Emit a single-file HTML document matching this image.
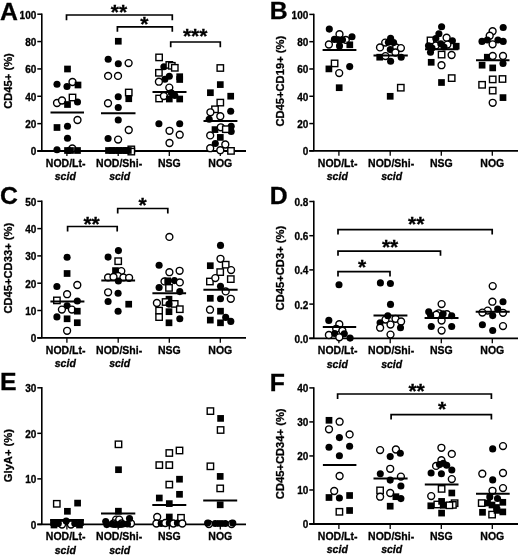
<!DOCTYPE html>
<html><head><meta charset="utf-8"><style>html,body{margin:0;padding:0;background:#fff;width:520px;height:555px;overflow:hidden}svg{display:block;will-change:transform}text{stroke:#000;stroke-width:0.3px}</style></head>
<body><svg width="520" height="555" viewBox="0 0 520 555" font-family='"Liberation Sans", sans-serif'><text x="0" y="20" font-size="24.8" font-weight="bold">A</text><text transform="translate(11.8,81) rotate(-90)" text-anchor="middle" font-size="11.2" font-weight="bold">CD45+ (%)</text><path d="M41.8 13.45V151" stroke="#000" stroke-width="1.6" fill="none"/><path d="M37.3 151H246" stroke="#000" stroke-width="1.8" fill="none"/><path d="M37.3 14.2H41.8" stroke="#000" stroke-width="1.5"/><text x="36.3" y="18.6" text-anchor="end" font-size="10" font-weight="bold">100</text><path d="M37.3 41.56H41.8" stroke="#000" stroke-width="1.5"/><text x="36.3" y="45.96" text-anchor="end" font-size="10" font-weight="bold">80</text><path d="M37.3 68.92H41.8" stroke="#000" stroke-width="1.5"/><text x="36.3" y="73.32000000000001" text-anchor="end" font-size="10" font-weight="bold">60</text><path d="M37.3 96.28H41.8" stroke="#000" stroke-width="1.5"/><text x="36.3" y="100.68" text-anchor="end" font-size="10" font-weight="bold">40</text><path d="M37.3 123.64H41.8" stroke="#000" stroke-width="1.5"/><text x="36.3" y="128.04" text-anchor="end" font-size="10" font-weight="bold">20</text><path d="M37.3 151.0H41.8" stroke="#000" stroke-width="1.5"/><text x="36.3" y="155.4" text-anchor="end" font-size="10" font-weight="bold">0</text><path d="M66.9 151V156" stroke="#000" stroke-width="1.3"/><text x="65.70" y="167" text-anchor="middle" font-size="10.5" font-weight="bold">NOD/Lt-</text><text x="65.30" y="180.3" text-anchor="middle" font-size="10.5" font-weight="bold" font-style="italic">scid</text><path d="M118.2 151V156" stroke="#000" stroke-width="1.3"/><text x="119.10" y="167" text-anchor="middle" font-size="10.5" font-weight="bold">NOD/Shi-</text><text x="119.70" y="180.3" text-anchor="middle" font-size="10.5" font-weight="bold" font-style="italic">scid</text><path d="M169.3 151V156" stroke="#000" stroke-width="1.3"/><text x="169.30" y="167" text-anchor="middle" font-size="10.5" font-weight="bold">NSG</text><path d="M220.3 151V156" stroke="#000" stroke-width="1.3"/><text x="220.30" y="167" text-anchor="middle" font-size="10.5" font-weight="bold">NOG</text><rect x="64.15" y="65.65" width="6.7" height="6.7"/><circle cx="57" cy="84.2" r="3.55"/><circle cx="67" cy="86.5" r="3.55"/><circle cx="72.5" cy="82" r="3.45" fill="#fff" stroke="#000" stroke-width="1.4"/><rect x="74.65" y="81.65" width="6.7" height="6.7"/><circle cx="57" cy="103" r="3.45" fill="#fff" stroke="#000" stroke-width="1.4"/><circle cx="62" cy="100.5" r="3.45" fill="#fff" stroke="#000" stroke-width="1.4"/><rect x="64.15" y="101.15" width="6.7" height="6.7"/><rect x="69.30" y="94.30" width="6.4" height="6.4" fill="#fff" stroke="#000" stroke-width="1.4"/><circle cx="77.5" cy="102" r="3.55"/><circle cx="77.5" cy="120" r="3.45" fill="#fff" stroke="#000" stroke-width="1.4"/><rect x="53.65" y="124.15" width="6.7" height="6.7"/><circle cx="67.5" cy="126.3" r="3.55"/><circle cx="67.5" cy="138.3" r="3.55"/><circle cx="57" cy="149.8" r="3.55"/><circle cx="72.3" cy="148.5" r="3.45" fill="#fff" stroke="#000" stroke-width="1.4"/><rect x="64.15" y="147.15" width="6.7" height="6.7"/><rect x="67.15" y="147.15" width="6.7" height="6.7"/><rect x="74.15" y="147.15" width="6.7" height="6.7"/><rect x="114.95" y="37.90" width="6.7" height="6.7"/><circle cx="108.2" cy="59.25" r="3.55"/><circle cx="118.3" cy="63.8" r="3.55"/><circle cx="128.6" cy="63.1" r="3.45" fill="#fff" stroke="#000" stroke-width="1.4"/><circle cx="108.1" cy="75.9" r="3.45" fill="#fff" stroke="#000" stroke-width="1.4"/><circle cx="118" cy="75.9" r="3.45" fill="#fff" stroke="#000" stroke-width="1.4"/><rect x="125.55" y="89.30" width="6.4" height="6.4" fill="#fff" stroke="#000" stroke-width="1.4"/><rect x="125.40" y="95.40" width="6.7" height="6.7"/><circle cx="118.25" cy="96.75" r="3.55"/><circle cx="108" cy="103.25" r="3.45" fill="#fff" stroke="#000" stroke-width="1.4"/><circle cx="118.25" cy="107.5" r="3.55"/><circle cx="118.25" cy="120" r="3.55"/><circle cx="128.75" cy="130" r="3.45" fill="#fff" stroke="#000" stroke-width="1.4"/><circle cx="108.1" cy="138.5" r="3.55"/><circle cx="118.1" cy="139.6" r="3.45" fill="#fff" stroke="#000" stroke-width="1.4"/><rect x="128.10" y="146.20" width="6.4" height="6.4" fill="#fff" stroke="#000" stroke-width="1.4"/><rect x="128.10" y="148.40" width="6.4" height="6.4" fill="#fff" stroke="#000" stroke-width="1.4"/><rect x="105.15" y="147.15" width="6.7" height="6.7"/><rect x="108.65" y="147.15" width="6.7" height="6.7"/><rect x="112.15" y="147.15" width="6.7" height="6.7"/><rect x="115.65" y="147.15" width="6.7" height="6.7"/><rect x="119.15" y="147.15" width="6.7" height="6.7"/><rect x="122.65" y="147.15" width="6.7" height="6.7"/><rect x="124.95" y="147.15" width="6.7" height="6.7"/><rect x="155.90" y="54.20" width="6.4" height="6.4" fill="#fff" stroke="#000" stroke-width="1.4"/><circle cx="163.9" cy="66.8" r="3.55"/><rect x="166.10" y="61.70" width="6.4" height="6.4" fill="#fff" stroke="#000" stroke-width="1.4"/><rect x="168.60" y="62.60" width="6.4" height="6.4" fill="#fff" stroke="#000" stroke-width="1.4"/><rect x="171.60" y="64.60" width="6.4" height="6.4" fill="#fff" stroke="#000" stroke-width="1.4"/><rect x="155.70" y="69.60" width="6.4" height="6.4" fill="#fff" stroke="#000" stroke-width="1.4"/><circle cx="169.3" cy="76.2" r="3.55"/><circle cx="164.9" cy="79.2" r="3.55"/><rect x="176.35" y="73.35" width="6.7" height="6.7"/><rect x="176.35" y="76.15" width="6.7" height="6.7"/><circle cx="158.9" cy="81.7" r="3.45" fill="#fff" stroke="#000" stroke-width="1.4"/><circle cx="169.3" cy="87.6" r="3.45" fill="#fff" stroke="#000" stroke-width="1.4"/><circle cx="171.3" cy="92.8" r="3.55"/><circle cx="174.8" cy="95.5" r="3.55"/><rect x="155.90" y="95.30" width="6.4" height="6.4" fill="#fff" stroke="#000" stroke-width="1.4"/><circle cx="163.9" cy="96" r="3.45" fill="#fff" stroke="#000" stroke-width="1.4"/><rect x="165.95" y="95.65" width="6.7" height="6.7"/><rect x="176.35" y="95.65" width="6.7" height="6.7"/><circle cx="158.9" cy="123.8" r="3.55"/><circle cx="179.7" cy="123.8" r="3.55"/><circle cx="169.5" cy="130.8" r="3.45" fill="#fff" stroke="#000" stroke-width="1.4"/><circle cx="179.7" cy="134.7" r="3.45" fill="#fff" stroke="#000" stroke-width="1.4"/><circle cx="169.5" cy="143" r="3.45" fill="#fff" stroke="#000" stroke-width="1.4"/><rect x="217.10" y="64.80" width="6.4" height="6.4" fill="#fff" stroke="#000" stroke-width="1.4"/><rect x="216.95" y="81.25" width="6.7" height="6.7"/><rect x="207.05" y="89.35" width="6.7" height="6.7"/><rect x="227.35" y="92.85" width="6.7" height="6.7"/><rect x="217.10" y="99.40" width="6.4" height="6.4" fill="#fff" stroke="#000" stroke-width="1.4"/><rect x="211.80" y="106.10" width="6.4" height="6.4" fill="#fff" stroke="#000" stroke-width="1.4"/><circle cx="230.7" cy="111.2" r="3.55"/><circle cx="210.4" cy="112.3" r="3.45" fill="#fff" stroke="#000" stroke-width="1.4"/><circle cx="220.3" cy="116.2" r="3.45" fill="#fff" stroke="#000" stroke-width="1.4"/><circle cx="209.2" cy="119.2" r="3.55"/><circle cx="231.2" cy="126.2" r="3.55"/><circle cx="231.2" cy="131.5" r="3.55"/><rect x="211.65" y="126.25" width="6.7" height="6.7"/><circle cx="220.8" cy="127.3" r="3.45" fill="#fff" stroke="#000" stroke-width="1.4"/><rect x="222.60" y="126.00" width="6.4" height="6.4" fill="#fff" stroke="#000" stroke-width="1.4"/><circle cx="210.2" cy="135.4" r="3.45" fill="#fff" stroke="#000" stroke-width="1.4"/><rect x="216.95" y="134.05" width="6.7" height="6.7"/><circle cx="215.3" cy="143.5" r="3.55"/><circle cx="225.3" cy="144.5" r="3.45" fill="#fff" stroke="#000" stroke-width="1.4"/><circle cx="210.2" cy="148.2" r="3.45" fill="#fff" stroke="#000" stroke-width="1.4"/><circle cx="220.3" cy="150.2" r="3.45" fill="#fff" stroke="#000" stroke-width="1.4"/><rect x="227.80" y="147.70" width="6.4" height="6.4" fill="#fff" stroke="#000" stroke-width="1.4"/><path d="M50.5 112.5H84" stroke="#000" stroke-width="2"/><path d="M101 113.25H135.5" stroke="#000" stroke-width="2"/><path d="M152.5 92.1H186.5" stroke="#000" stroke-width="2"/><path d="M203.5 121H237.4" stroke="#000" stroke-width="2"/><path d="M66.5 20.3V15H172.3V20.3" stroke="#000" stroke-width="1.7" fill="none"/><text x="119" y="18.9" text-anchor="middle" font-size="21" font-weight="bold">**</text><path d="M117.4 31.8V26.8H172.3V31.8" stroke="#000" stroke-width="1.7" fill="none"/><text x="144.3" y="30.9" text-anchor="middle" font-size="21" font-weight="bold">*</text><path d="M170.7 47.3V42H220.3V47.3" stroke="#000" stroke-width="1.7" fill="none"/><text x="195.2" y="43.4" text-anchor="middle" font-size="21" font-weight="bold">***</text><text x="269.8" y="18.5" font-size="24.8" font-weight="bold">B</text><text transform="translate(284.3,81.2) rotate(-90)" text-anchor="middle" font-size="11.2" font-weight="bold">CD45+CD19+ (%)</text><path d="M313.8 13.65V150.85" stroke="#000" stroke-width="1.6" fill="none"/><path d="M309.3 150.85H518" stroke="#000" stroke-width="1.8" fill="none"/><path d="M309.3 14.4H313.8" stroke="#000" stroke-width="1.5"/><text x="308.3" y="18.8" text-anchor="end" font-size="10" font-weight="bold">100</text><path d="M309.3 41.69H313.8" stroke="#000" stroke-width="1.5"/><text x="308.3" y="46.089999999999996" text-anchor="end" font-size="10" font-weight="bold">80</text><path d="M309.3 68.98H313.8" stroke="#000" stroke-width="1.5"/><text x="308.3" y="73.38000000000001" text-anchor="end" font-size="10" font-weight="bold">60</text><path d="M309.3 96.27H313.8" stroke="#000" stroke-width="1.5"/><text x="308.3" y="100.67" text-anchor="end" font-size="10" font-weight="bold">40</text><path d="M309.3 123.56H313.8" stroke="#000" stroke-width="1.5"/><text x="308.3" y="127.96000000000001" text-anchor="end" font-size="10" font-weight="bold">20</text><path d="M309.3 150.85H313.8" stroke="#000" stroke-width="1.5"/><text x="308.3" y="155.25" text-anchor="end" font-size="10" font-weight="bold">0</text><path d="M338.9 150.85V155.85" stroke="#000" stroke-width="1.3"/><text x="337.70" y="166.85" text-anchor="middle" font-size="10.5" font-weight="bold">NOD/Lt-</text><text x="337.30" y="180.15" text-anchor="middle" font-size="10.5" font-weight="bold" font-style="italic">scid</text><path d="M390.2 150.85V155.85" stroke="#000" stroke-width="1.3"/><text x="391.10" y="166.85" text-anchor="middle" font-size="10.5" font-weight="bold">NOD/Shi-</text><text x="391.70" y="180.15" text-anchor="middle" font-size="10.5" font-weight="bold" font-style="italic">scid</text><path d="M441.3 150.85V155.85" stroke="#000" stroke-width="1.3"/><text x="441.30" y="166.85" text-anchor="middle" font-size="10.5" font-weight="bold">NSG</text><path d="M492.3 150.85V155.85" stroke="#000" stroke-width="1.3"/><text x="492.30" y="166.85" text-anchor="middle" font-size="10.5" font-weight="bold">NOG</text><circle cx="339.5" cy="34.2" r="3.45" fill="#fff" stroke="#000" stroke-width="1.4"/><circle cx="345.8" cy="39.9" r="3.45" fill="#fff" stroke="#000" stroke-width="1.4"/><circle cx="329.3" cy="29.1" r="3.55"/><circle cx="352" cy="36.8" r="3.55"/><circle cx="334.4" cy="39.4" r="3.55"/><circle cx="338.5" cy="39.8" r="3.55"/><circle cx="342.5" cy="39.7" r="3.55"/><circle cx="328.9" cy="44.5" r="3.45" fill="#fff" stroke="#000" stroke-width="1.4"/><circle cx="339.5" cy="45.9" r="3.55"/><rect x="346.45" y="41.45" width="6.7" height="6.7"/><rect x="331.40" y="60.20" width="6.4" height="6.4" fill="#fff" stroke="#000" stroke-width="1.4"/><rect x="325.55" y="65.55" width="6.7" height="6.7"/><circle cx="349.7" cy="66.6" r="3.55"/><circle cx="339.2" cy="73.1" r="3.45" fill="#fff" stroke="#000" stroke-width="1.4"/><rect x="335.85" y="84.35" width="6.7" height="6.7"/><circle cx="385.2" cy="42.6" r="3.45" fill="#fff" stroke="#000" stroke-width="1.4"/><circle cx="396.1" cy="47.4" r="3.45" fill="#fff" stroke="#000" stroke-width="1.4"/><circle cx="400.9" cy="48.1" r="3.45" fill="#fff" stroke="#000" stroke-width="1.4"/><circle cx="380" cy="47.4" r="3.45" fill="#fff" stroke="#000" stroke-width="1.4"/><circle cx="390.6" cy="38.2" r="3.55"/><circle cx="388.4" cy="42.3" r="3.55"/><circle cx="393.6" cy="42.6" r="3.55"/><circle cx="390.3" cy="49.6" r="3.55"/><circle cx="395.4" cy="52.5" r="3.45" fill="#fff" stroke="#000" stroke-width="1.4"/><rect x="376.35" y="53.85" width="6.7" height="6.7"/><circle cx="385.5" cy="56.1" r="3.45" fill="#fff" stroke="#000" stroke-width="1.4"/><circle cx="401.2" cy="57.2" r="3.55"/><circle cx="390.6" cy="61.3" r="3.55"/><rect x="397.60" y="84.50" width="6.4" height="6.4" fill="#fff" stroke="#000" stroke-width="1.4"/><rect x="386.85" y="92.95" width="6.7" height="6.7"/><circle cx="441.6" cy="26.8" r="3.55"/><circle cx="438.9" cy="33.8" r="3.55"/><rect x="427.30" y="37.20" width="6.4" height="6.4" fill="#fff" stroke="#000" stroke-width="1.4"/><circle cx="446.6" cy="37.7" r="3.45" fill="#fff" stroke="#000" stroke-width="1.4"/><circle cx="435.8" cy="38.5" r="3.55"/><circle cx="452.4" cy="40.8" r="3.55"/><circle cx="447.4" cy="44.6" r="3.45" fill="#fff" stroke="#000" stroke-width="1.4"/><circle cx="435.8" cy="45.4" r="3.45" fill="#fff" stroke="#000" stroke-width="1.4"/><circle cx="440.8" cy="43.8" r="3.55"/><circle cx="428.5" cy="45.8" r="3.55"/><rect x="452.85" y="42.85" width="6.7" height="6.7"/><circle cx="444" cy="47" r="3.55"/><circle cx="432" cy="48" r="3.55"/><circle cx="430.5" cy="52.3" r="3.55"/><rect x="438.40" y="51.40" width="6.4" height="6.4" fill="#fff" stroke="#000" stroke-width="1.4"/><circle cx="451.6" cy="55" r="3.45" fill="#fff" stroke="#000" stroke-width="1.4"/><rect x="427.85" y="58.95" width="6.7" height="6.7"/><circle cx="441.5" cy="65.2" r="3.45" fill="#fff" stroke="#000" stroke-width="1.4"/><rect x="438.15" y="79.15" width="6.7" height="6.7"/><rect x="448.50" y="74.90" width="6.4" height="6.4" fill="#fff" stroke="#000" stroke-width="1.4"/><circle cx="503.2" cy="27.5" r="3.55"/><circle cx="492.6" cy="31.2" r="3.45" fill="#fff" stroke="#000" stroke-width="1.4"/><circle cx="489.7" cy="35.7" r="3.45" fill="#fff" stroke="#000" stroke-width="1.4"/><circle cx="482" cy="41.4" r="3.55"/><circle cx="487.3" cy="40" r="3.55"/><circle cx="497.9" cy="40" r="3.55"/><circle cx="503.2" cy="41.4" r="3.55"/><circle cx="492.6" cy="44.3" r="3.45" fill="#fff" stroke="#000" stroke-width="1.4"/><rect x="483.95" y="53.85" width="6.7" height="6.7"/><circle cx="492.7" cy="56" r="3.45" fill="#fff" stroke="#000" stroke-width="1.4"/><circle cx="503" cy="56" r="3.45" fill="#fff" stroke="#000" stroke-width="1.4"/><rect x="478.75" y="61.85" width="6.7" height="6.7"/><circle cx="503" cy="63.5" r="3.55"/><rect x="489.35" y="64.55" width="6.7" height="6.7"/><rect x="489.50" y="76.20" width="6.4" height="6.4" fill="#fff" stroke="#000" stroke-width="1.4"/><rect x="499.30" y="75.80" width="6.4" height="6.4" fill="#fff" stroke="#000" stroke-width="1.4"/><rect x="478.90" y="81.60" width="6.4" height="6.4" fill="#fff" stroke="#000" stroke-width="1.4"/><rect x="489.50" y="87.40" width="6.4" height="6.4" fill="#fff" stroke="#000" stroke-width="1.4"/><rect x="499.65" y="94.25" width="6.7" height="6.7"/><circle cx="492.7" cy="102.8" r="3.45" fill="#fff" stroke="#000" stroke-width="1.4"/><path d="M322.6 50H356.4" stroke="#000" stroke-width="2"/><path d="M373.5 55.4H407.8" stroke="#000" stroke-width="2"/><path d="M425 49.3H458.4" stroke="#000" stroke-width="2"/><path d="M476 60.2H509.5" stroke="#000" stroke-width="2"/><text x="0" y="204" font-size="24.8" font-weight="bold">C</text><text transform="translate(12.0,268.2) rotate(-90)" text-anchor="middle" font-size="11.2" font-weight="bold">CD45+CD33+ (%)</text><path d="M41.8 200.55V337.8" stroke="#000" stroke-width="1.6" fill="none"/><path d="M37.3 337.8H246" stroke="#000" stroke-width="1.8" fill="none"/><path d="M37.3 201.3H41.8" stroke="#000" stroke-width="1.5"/><text x="36.3" y="205.70000000000002" text-anchor="end" font-size="10" font-weight="bold">50</text><path d="M37.3 228.6H41.8" stroke="#000" stroke-width="1.5"/><text x="36.3" y="233.0" text-anchor="end" font-size="10" font-weight="bold">40</text><path d="M37.3 255.9H41.8" stroke="#000" stroke-width="1.5"/><text x="36.3" y="260.3" text-anchor="end" font-size="10" font-weight="bold">30</text><path d="M37.3 283.2H41.8" stroke="#000" stroke-width="1.5"/><text x="36.3" y="287.59999999999997" text-anchor="end" font-size="10" font-weight="bold">20</text><path d="M37.3 310.5H41.8" stroke="#000" stroke-width="1.5"/><text x="36.3" y="314.9" text-anchor="end" font-size="10" font-weight="bold">10</text><path d="M37.3 337.8H41.8" stroke="#000" stroke-width="1.5"/><text x="36.3" y="342.2" text-anchor="end" font-size="10" font-weight="bold">0</text><path d="M66.9 337.8V342.8" stroke="#000" stroke-width="1.3"/><text x="65.70" y="353.8" text-anchor="middle" font-size="10.5" font-weight="bold">NOD/Lt-</text><text x="65.30" y="367.1" text-anchor="middle" font-size="10.5" font-weight="bold" font-style="italic">scid</text><path d="M118.2 337.8V342.8" stroke="#000" stroke-width="1.3"/><text x="119.10" y="353.8" text-anchor="middle" font-size="10.5" font-weight="bold">NOD/Shi-</text><text x="119.70" y="367.1" text-anchor="middle" font-size="10.5" font-weight="bold" font-style="italic">scid</text><path d="M169.3 337.8V342.8" stroke="#000" stroke-width="1.3"/><text x="169.30" y="353.8" text-anchor="middle" font-size="10.5" font-weight="bold">NSG</text><path d="M220.3 337.8V342.8" stroke="#000" stroke-width="1.3"/><text x="220.30" y="353.8" text-anchor="middle" font-size="10.5" font-weight="bold">NOG</text><circle cx="67.1" cy="257.3" r="3.55"/><rect x="63.75" y="270.15" width="6.7" height="6.7"/><circle cx="56.9" cy="286.5" r="3.55"/><circle cx="77.3" cy="285" r="3.45" fill="#fff" stroke="#000" stroke-width="1.4"/><circle cx="67.1" cy="294.2" r="3.45" fill="#fff" stroke="#000" stroke-width="1.4"/><rect x="53.70" y="297.20" width="6.4" height="6.4" fill="#fff" stroke="#000" stroke-width="1.4"/><circle cx="77.3" cy="301" r="3.55"/><circle cx="67.1" cy="305.8" r="3.55"/><circle cx="61.9" cy="309.6" r="3.45" fill="#fff" stroke="#000" stroke-width="1.4"/><circle cx="71.9" cy="309.6" r="3.45" fill="#fff" stroke="#000" stroke-width="1.4"/><rect x="73.95" y="307.85" width="6.7" height="6.7"/><circle cx="56.9" cy="316.9" r="3.55"/><rect x="63.75" y="315.45" width="6.7" height="6.7"/><rect x="73.95" y="319.35" width="6.7" height="6.7"/><circle cx="67.1" cy="330.8" r="3.45" fill="#fff" stroke="#000" stroke-width="1.4"/><circle cx="118.4" cy="250.6" r="3.55"/><circle cx="108.1" cy="257.1" r="3.55"/><rect x="115.00" y="258.00" width="6.4" height="6.4" fill="#fff" stroke="#000" stroke-width="1.4"/><circle cx="121.3" cy="271.1" r="3.45" fill="#fff" stroke="#000" stroke-width="1.4"/><rect x="112.15" y="267.25" width="6.7" height="6.7"/><circle cx="118" cy="276" r="3.45" fill="#fff" stroke="#000" stroke-width="1.4"/><circle cx="108.1" cy="277.4" r="3.45" fill="#fff" stroke="#000" stroke-width="1.4"/><circle cx="113.5" cy="276.9" r="3.45" fill="#fff" stroke="#000" stroke-width="1.4"/><circle cx="123.4" cy="277.4" r="3.45" fill="#fff" stroke="#000" stroke-width="1.4"/><circle cx="129.1" cy="277.8" r="3.45" fill="#fff" stroke="#000" stroke-width="1.4"/><circle cx="118.4" cy="281" r="3.55"/><circle cx="108.1" cy="292.3" r="3.45" fill="#fff" stroke="#000" stroke-width="1.4"/><circle cx="118.1" cy="293.3" r="3.55"/><circle cx="108.1" cy="301.5" r="3.55"/><rect x="125.35" y="300.85" width="6.7" height="6.7"/><circle cx="118.1" cy="311.2" r="3.55"/><circle cx="169.4" cy="236.9" r="3.45" fill="#fff" stroke="#000" stroke-width="1.4"/><circle cx="159.1" cy="265.3" r="3.55"/><circle cx="169.4" cy="272.2" r="3.45" fill="#fff" stroke="#000" stroke-width="1.4"/><circle cx="179.6" cy="270.8" r="3.45" fill="#fff" stroke="#000" stroke-width="1.4"/><circle cx="164.5" cy="281.4" r="3.45" fill="#fff" stroke="#000" stroke-width="1.4"/><rect x="164.35" y="277.45" width="6.7" height="6.7"/><circle cx="174.4" cy="280.6" r="3.55"/><circle cx="179.8" cy="282.4" r="3.45" fill="#fff" stroke="#000" stroke-width="1.4"/><circle cx="159.1" cy="287.5" r="3.55"/><rect x="165.80" y="284.70" width="6.4" height="6.4" fill="#fff" stroke="#000" stroke-width="1.4"/><circle cx="179.8" cy="291.6" r="3.55"/><rect x="165.65" y="295.85" width="6.7" height="6.7"/><circle cx="156.9" cy="303" r="3.45" fill="#fff" stroke="#000" stroke-width="1.4"/><rect x="162.40" y="298.80" width="6.4" height="6.4" fill="#fff" stroke="#000" stroke-width="1.4"/><rect x="171.50" y="300.70" width="6.4" height="6.4" fill="#fff" stroke="#000" stroke-width="1.4"/><circle cx="169" cy="304.1" r="3.55"/><rect x="176.60" y="306.00" width="6.4" height="6.4" fill="#fff" stroke="#000" stroke-width="1.4"/><rect x="155.90" y="307.40" width="6.4" height="6.4" fill="#fff" stroke="#000" stroke-width="1.4"/><rect x="165.65" y="308.35" width="6.7" height="6.7"/><rect x="155.90" y="313.90" width="6.4" height="6.4" fill="#fff" stroke="#000" stroke-width="1.4"/><circle cx="179.8" cy="318.7" r="3.55"/><rect x="165.65" y="319.45" width="6.7" height="6.7"/><circle cx="220.5" cy="245.4" r="3.55"/><circle cx="220.5" cy="258.8" r="3.45" fill="#fff" stroke="#000" stroke-width="1.4"/><rect x="222.50" y="261.50" width="6.4" height="6.4" fill="#fff" stroke="#000" stroke-width="1.4"/><rect x="206.95" y="262.35" width="6.7" height="6.7"/><circle cx="231.1" cy="270.1" r="3.45" fill="#fff" stroke="#000" stroke-width="1.4"/><rect x="217.00" y="268.90" width="6.4" height="6.4" fill="#fff" stroke="#000" stroke-width="1.4"/><rect x="206.70" y="278.30" width="6.4" height="6.4" fill="#fff" stroke="#000" stroke-width="1.4"/><circle cx="215.3" cy="278.1" r="3.45" fill="#fff" stroke="#000" stroke-width="1.4"/><rect x="227.60" y="275.90" width="6.4" height="6.4" fill="#fff" stroke="#000" stroke-width="1.4"/><circle cx="220.5" cy="286.2" r="3.55"/><circle cx="225.7" cy="291.4" r="3.45" fill="#fff" stroke="#000" stroke-width="1.4"/><rect x="206.95" y="294.95" width="6.7" height="6.7"/><circle cx="220.5" cy="298.8" r="3.55"/><circle cx="230.8" cy="298.8" r="3.45" fill="#fff" stroke="#000" stroke-width="1.4"/><circle cx="210" cy="309.7" r="3.45" fill="#fff" stroke="#000" stroke-width="1.4"/><rect x="217.15" y="307.85" width="6.7" height="6.7"/><circle cx="225.7" cy="317.4" r="3.55"/><rect x="206.95" y="316.75" width="6.7" height="6.7"/><rect x="217.15" y="319.45" width="6.7" height="6.7"/><circle cx="230.8" cy="321.4" r="3.55"/><path d="M50.4 301.5H84.4" stroke="#000" stroke-width="2"/><path d="M101.3 280.4H135.1" stroke="#000" stroke-width="2"/><path d="M152.4 293.3H186.1" stroke="#000" stroke-width="2"/><path d="M203.4 289.7H237.6" stroke="#000" stroke-width="2"/><path d="M67.6 231.5V226.5H117.2V231.5" stroke="#000" stroke-width="1.7" fill="none"/><text x="91.6" y="230.9" text-anchor="middle" font-size="21" font-weight="bold">**</text><path d="M117.7 213.5V208.5H167.8V213.5" stroke="#000" stroke-width="1.7" fill="none"/><text x="142.5" y="212.4" text-anchor="middle" font-size="21" font-weight="bold">*</text><text x="269.8" y="204.4" font-size="24.8" font-weight="bold">D</text><text transform="translate(284.4,268.1) rotate(-90)" text-anchor="middle" font-size="11.2" font-weight="bold">CD45+CD3+ (%)</text><path d="M313.8 200.75V338.3" stroke="#000" stroke-width="1.6" fill="none"/><path d="M309.3 338.3H518" stroke="#000" stroke-width="1.8" fill="none"/><path d="M309.3 201.5H313.8" stroke="#000" stroke-width="1.5"/><text x="308.3" y="205.9" text-anchor="end" font-size="10" font-weight="bold">0.8</text><path d="M309.3 235.7H313.8" stroke="#000" stroke-width="1.5"/><text x="308.3" y="240.1" text-anchor="end" font-size="10" font-weight="bold">0.6</text><path d="M309.3 269.9H313.8" stroke="#000" stroke-width="1.5"/><text x="308.3" y="274.29999999999995" text-anchor="end" font-size="10" font-weight="bold">0.4</text><path d="M309.3 304.1H313.8" stroke="#000" stroke-width="1.5"/><text x="308.3" y="308.5" text-anchor="end" font-size="10" font-weight="bold">0.2</text><path d="M309.3 338.3H313.8" stroke="#000" stroke-width="1.5"/><text x="308.3" y="342.7" text-anchor="end" font-size="10" font-weight="bold">0.0</text><path d="M338.9 338.3V343.3" stroke="#000" stroke-width="1.3"/><text x="337.70" y="354.3" text-anchor="middle" font-size="10.5" font-weight="bold">NOD/Lt-</text><text x="337.30" y="367.6" text-anchor="middle" font-size="10.5" font-weight="bold" font-style="italic">scid</text><path d="M390.2 338.3V343.3" stroke="#000" stroke-width="1.3"/><text x="391.10" y="354.3" text-anchor="middle" font-size="10.5" font-weight="bold">NOD/Shi-</text><text x="391.70" y="367.6" text-anchor="middle" font-size="10.5" font-weight="bold" font-style="italic">scid</text><path d="M441.3 338.3V343.3" stroke="#000" stroke-width="1.3"/><text x="441.30" y="354.3" text-anchor="middle" font-size="10.5" font-weight="bold">NSG</text><path d="M492.3 338.3V343.3" stroke="#000" stroke-width="1.3"/><text x="492.30" y="354.3" text-anchor="middle" font-size="10.5" font-weight="bold">NOG</text><circle cx="339" cy="284.8" r="3.55"/><circle cx="328.8" cy="320.4" r="3.55"/><circle cx="339.3" cy="324.2" r="3.45" fill="#fff" stroke="#000" stroke-width="1.4"/><circle cx="336.2" cy="328.8" r="3.45" fill="#fff" stroke="#000" stroke-width="1.4"/><circle cx="342.4" cy="330.8" r="3.45" fill="#fff" stroke="#000" stroke-width="1.4"/><circle cx="328.9" cy="335" r="3.45" fill="#fff" stroke="#000" stroke-width="1.4"/><circle cx="334.7" cy="333.5" r="3.55"/><circle cx="344.3" cy="333.8" r="3.55"/><circle cx="339.3" cy="337.3" r="3.45" fill="#fff" stroke="#000" stroke-width="1.4"/><circle cx="350.1" cy="338.1" r="3.55"/><circle cx="380.4" cy="282.9" r="3.55"/><circle cx="390.4" cy="283.5" r="3.55"/><circle cx="390.5" cy="304.4" r="3.55"/><circle cx="385.5" cy="319.6" r="3.45" fill="#fff" stroke="#000" stroke-width="1.4"/><circle cx="395.5" cy="318.8" r="3.45" fill="#fff" stroke="#000" stroke-width="1.4"/><circle cx="387.8" cy="315.8" r="3.55"/><circle cx="380.1" cy="322.7" r="3.55"/><circle cx="401.1" cy="321.5" r="3.45" fill="#fff" stroke="#000" stroke-width="1.4"/><circle cx="390.5" cy="324.6" r="3.45" fill="#fff" stroke="#000" stroke-width="1.4"/><circle cx="380.1" cy="327.7" r="3.45" fill="#fff" stroke="#000" stroke-width="1.4"/><circle cx="400.5" cy="327.7" r="3.55"/><circle cx="390.5" cy="334.6" r="3.45" fill="#fff" stroke="#000" stroke-width="1.4"/><circle cx="441.6" cy="304.1" r="3.45" fill="#fff" stroke="#000" stroke-width="1.4"/><circle cx="428.7" cy="311.8" r="3.55"/><circle cx="438.8" cy="313.3" r="3.45" fill="#fff" stroke="#000" stroke-width="1.4"/><circle cx="436.3" cy="314.7" r="3.45" fill="#fff" stroke="#000" stroke-width="1.4"/><circle cx="446.9" cy="314.2" r="3.45" fill="#fff" stroke="#000" stroke-width="1.4"/><circle cx="430.6" cy="315.2" r="3.55"/><circle cx="443.1" cy="313.8" r="3.55"/><circle cx="451.7" cy="315.7" r="3.55"/><circle cx="441.6" cy="320.5" r="3.45" fill="#fff" stroke="#000" stroke-width="1.4"/><circle cx="431.3" cy="326.5" r="3.55"/><circle cx="451.7" cy="326.5" r="3.55"/><circle cx="441.6" cy="330.6" r="3.45" fill="#fff" stroke="#000" stroke-width="1.4"/><circle cx="492.7" cy="286.1" r="3.45" fill="#fff" stroke="#000" stroke-width="1.4"/><circle cx="492.4" cy="301.7" r="3.45" fill="#fff" stroke="#000" stroke-width="1.4"/><circle cx="503" cy="301.7" r="3.55"/><circle cx="487.7" cy="310.6" r="3.45" fill="#fff" stroke="#000" stroke-width="1.4"/><circle cx="482.4" cy="312.6" r="3.45" fill="#fff" stroke="#000" stroke-width="1.4"/><circle cx="503" cy="312.8" r="3.45" fill="#fff" stroke="#000" stroke-width="1.4"/><circle cx="497.7" cy="309" r="3.55"/><circle cx="492.7" cy="315.6" r="3.55"/><circle cx="482.4" cy="324.8" r="3.55"/><circle cx="503" cy="326.1" r="3.45" fill="#fff" stroke="#000" stroke-width="1.4"/><circle cx="492.7" cy="330.5" r="3.55"/><path d="M322.8 326.9H356.2" stroke="#000" stroke-width="2"/><path d="M373.5 315.4H407.4" stroke="#000" stroke-width="2"/><path d="M424.6 317.9H458.5" stroke="#000" stroke-width="2"/><path d="M475.7 311.8H509.7" stroke="#000" stroke-width="2"/><path d="M338 234.4V229.6H492.2V234.4" stroke="#000" stroke-width="1.7" fill="none"/><text x="416.3" y="230.8" text-anchor="middle" font-size="21" font-weight="bold">**</text><path d="M338 255.8V251.1H440.5V255.8" stroke="#000" stroke-width="1.7" fill="none"/><text x="390.1" y="254.2" text-anchor="middle" font-size="21" font-weight="bold">**</text><path d="M338 276.5V271.6H390V276.5" stroke="#000" stroke-width="1.7" fill="none"/><text x="362" y="274" text-anchor="middle" font-size="21" font-weight="bold">*</text><text x="0" y="390.2" font-size="24.8" font-weight="bold">E</text><text transform="translate(12.3,455.6) rotate(-90)" text-anchor="middle" font-size="11.2" font-weight="bold">GlyA+ (%)</text><path d="M41.8 387.05V524.4" stroke="#000" stroke-width="1.6" fill="none"/><path d="M37.3 524.4H246" stroke="#000" stroke-width="1.8" fill="none"/><path d="M37.3 387.8H41.8" stroke="#000" stroke-width="1.5"/><text x="36.3" y="392.2" text-anchor="end" font-size="10" font-weight="bold">30</text><path d="M37.3 433.33H41.8" stroke="#000" stroke-width="1.5"/><text x="36.3" y="437.72999999999996" text-anchor="end" font-size="10" font-weight="bold">20</text><path d="M37.3 478.87H41.8" stroke="#000" stroke-width="1.5"/><text x="36.3" y="483.27" text-anchor="end" font-size="10" font-weight="bold">10</text><path d="M37.3 524.4H41.8" stroke="#000" stroke-width="1.5"/><text x="36.3" y="528.8" text-anchor="end" font-size="10" font-weight="bold">0</text><path d="M66.9 524.4V529.4" stroke="#000" stroke-width="1.3"/><text x="65.70" y="540.4" text-anchor="middle" font-size="10.5" font-weight="bold">NOD/Lt-</text><text x="65.30" y="553.6999999999999" text-anchor="middle" font-size="10.5" font-weight="bold" font-style="italic">scid</text><path d="M118.2 524.4V529.4" stroke="#000" stroke-width="1.3"/><text x="119.10" y="540.4" text-anchor="middle" font-size="10.5" font-weight="bold">NOD/Shi-</text><text x="119.70" y="553.6999999999999" text-anchor="middle" font-size="10.5" font-weight="bold" font-style="italic">scid</text><path d="M169.3 524.4V529.4" stroke="#000" stroke-width="1.3"/><text x="169.30" y="540.4" text-anchor="middle" font-size="10.5" font-weight="bold">NSG</text><path d="M220.3 524.4V529.4" stroke="#000" stroke-width="1.3"/><text x="220.30" y="540.4" text-anchor="middle" font-size="10.5" font-weight="bold">NOG</text><rect x="53.60" y="500.60" width="6.4" height="6.4" fill="#fff" stroke="#000" stroke-width="1.4"/><rect x="74.25" y="499.75" width="6.7" height="6.7"/><rect x="64.05" y="507.95" width="6.7" height="6.7"/><circle cx="62" cy="524.5" r="3.45" fill="#fff" stroke="#000" stroke-width="1.4"/><circle cx="71" cy="524.5" r="3.45" fill="#fff" stroke="#000" stroke-width="1.4"/><rect x="50.15" y="519.15" width="6.7" height="6.7"/><circle cx="58.3" cy="523.5" r="3.55"/><circle cx="66.2" cy="521" r="3.55"/><circle cx="74.8" cy="523.5" r="3.55"/><rect x="77.15" y="519.15" width="6.7" height="6.7"/><rect x="50.65" y="521.65" width="6.7" height="6.7"/><rect x="76.15" y="521.65" width="6.7" height="6.7"/><rect x="115.30" y="441.10" width="6.4" height="6.4" fill="#fff" stroke="#000" stroke-width="1.4"/><rect x="115.15" y="466.35" width="6.7" height="6.7"/><rect x="115.05" y="507.85" width="6.7" height="6.7"/><circle cx="116.1" cy="519.6" r="3.45" fill="#fff" stroke="#000" stroke-width="1.4"/><circle cx="119.2" cy="519.6" r="3.45" fill="#fff" stroke="#000" stroke-width="1.4"/><circle cx="113.5" cy="523.5" r="3.45" fill="#fff" stroke="#000" stroke-width="1.4"/><circle cx="121.5" cy="523.5" r="3.45" fill="#fff" stroke="#000" stroke-width="1.4"/><circle cx="105.7" cy="521.5" r="3.55"/><circle cx="106.8" cy="524.6" r="3.55"/><circle cx="112" cy="524" r="3.55"/><circle cx="115.5" cy="524.5" r="3.55"/><circle cx="119.5" cy="524.5" r="3.55"/><circle cx="123" cy="524" r="3.55"/><circle cx="131" cy="523.5" r="3.45" fill="#fff" stroke="#000" stroke-width="1.4"/><circle cx="129.5" cy="518.5" r="3.55"/><circle cx="127.5" cy="524" r="3.55"/><rect x="166.10" y="449.80" width="6.4" height="6.4" fill="#fff" stroke="#000" stroke-width="1.4"/><rect x="176.30" y="447.30" width="6.4" height="6.4" fill="#fff" stroke="#000" stroke-width="1.4"/><rect x="156.10" y="461.90" width="6.4" height="6.4" fill="#fff" stroke="#000" stroke-width="1.4"/><rect x="166.10" y="461.90" width="6.4" height="6.4" fill="#fff" stroke="#000" stroke-width="1.4"/><rect x="176.15" y="475.85" width="6.7" height="6.7"/><rect x="166.10" y="481.40" width="6.4" height="6.4" fill="#fff" stroke="#000" stroke-width="1.4"/><rect x="176.15" y="490.95" width="6.7" height="6.7"/><rect x="155.95" y="494.65" width="6.7" height="6.7"/><rect x="165.95" y="500.25" width="6.7" height="6.7"/><circle cx="157.2" cy="517" r="3.45" fill="#fff" stroke="#000" stroke-width="1.4"/><rect x="165.95" y="513.65" width="6.7" height="6.7"/><rect x="177.80" y="514.60" width="6.4" height="6.4" fill="#fff" stroke="#000" stroke-width="1.4"/><circle cx="156.4" cy="523.5" r="3.45" fill="#fff" stroke="#000" stroke-width="1.4"/><circle cx="161.2" cy="523.5" r="3.55"/><circle cx="165.3" cy="523" r="3.45" fill="#fff" stroke="#000" stroke-width="1.4"/><circle cx="169.3" cy="523" r="3.55"/><circle cx="173.4" cy="523.5" r="3.45" fill="#fff" stroke="#000" stroke-width="1.4"/><circle cx="177.4" cy="523" r="3.55"/><circle cx="182.3" cy="523.5" r="3.45" fill="#fff" stroke="#000" stroke-width="1.4"/><rect x="207.20" y="407.90" width="6.4" height="6.4" fill="#fff" stroke="#000" stroke-width="1.4"/><rect x="217.25" y="415.05" width="6.7" height="6.7"/><rect x="217.40" y="426.80" width="6.4" height="6.4" fill="#fff" stroke="#000" stroke-width="1.4"/><rect x="207.20" y="463.10" width="6.4" height="6.4" fill="#fff" stroke="#000" stroke-width="1.4"/><rect x="216.85" y="473.05" width="6.7" height="6.7"/><rect x="217.00" y="485.20" width="6.4" height="6.4" fill="#fff" stroke="#000" stroke-width="1.4"/><rect x="216.85" y="501.45" width="6.7" height="6.7"/><circle cx="208.9" cy="524" r="3.45" fill="#fff" stroke="#000" stroke-width="1.4"/><circle cx="207.6" cy="523" r="3.55"/><circle cx="215.2" cy="523.5" r="3.55"/><rect x="216.85" y="520.15" width="6.7" height="6.7"/><circle cx="225.3" cy="523.5" r="3.55"/><circle cx="231.6" cy="524" r="3.45" fill="#fff" stroke="#000" stroke-width="1.4"/><circle cx="232.8" cy="523" r="3.55"/><path d="M50.3 520H83.8" stroke="#000" stroke-width="2"/><path d="M101 513.5H135.3" stroke="#000" stroke-width="2"/><path d="M152.3 504.9H186.3" stroke="#000" stroke-width="2"/><path d="M203.2 500.6H237.2" stroke="#000" stroke-width="2"/><text x="269.8" y="391.2" font-size="24.8" font-weight="bold">F</text><text transform="translate(284.4,453.8) rotate(-90)" text-anchor="middle" font-size="11.2" font-weight="bold">CD45+CD34+ (%)</text><path d="M313.8 387.15V524" stroke="#000" stroke-width="1.6" fill="none"/><path d="M309.3 524H518" stroke="#000" stroke-width="1.8" fill="none"/><path d="M309.3 387.9H313.8" stroke="#000" stroke-width="1.5"/><text x="308.3" y="392.29999999999995" text-anchor="end" font-size="10" font-weight="bold">40</text><path d="M309.3 421.92H313.8" stroke="#000" stroke-width="1.5"/><text x="308.3" y="426.32" text-anchor="end" font-size="10" font-weight="bold">30</text><path d="M309.3 455.95H313.8" stroke="#000" stroke-width="1.5"/><text x="308.3" y="460.34999999999997" text-anchor="end" font-size="10" font-weight="bold">20</text><path d="M309.3 489.98H313.8" stroke="#000" stroke-width="1.5"/><text x="308.3" y="494.38" text-anchor="end" font-size="10" font-weight="bold">10</text><path d="M309.3 524.0H313.8" stroke="#000" stroke-width="1.5"/><text x="308.3" y="528.4" text-anchor="end" font-size="10" font-weight="bold">0</text><path d="M338.9 524V529" stroke="#000" stroke-width="1.3"/><text x="337.70" y="540" text-anchor="middle" font-size="10.5" font-weight="bold">NOD/Lt-</text><text x="337.30" y="553.3" text-anchor="middle" font-size="10.5" font-weight="bold" font-style="italic">scid</text><path d="M390.2 524V529" stroke="#000" stroke-width="1.3"/><text x="391.10" y="540" text-anchor="middle" font-size="10.5" font-weight="bold">NOD/Shi-</text><text x="391.70" y="553.3" text-anchor="middle" font-size="10.5" font-weight="bold" font-style="italic">scid</text><path d="M441.3 524V529" stroke="#000" stroke-width="1.3"/><text x="441.30" y="540" text-anchor="middle" font-size="10.5" font-weight="bold">NSG</text><path d="M492.3 524V529" stroke="#000" stroke-width="1.3"/><text x="492.30" y="540" text-anchor="middle" font-size="10.5" font-weight="bold">NOG</text><rect x="325.65" y="416.95" width="6.7" height="6.7"/><circle cx="339.6" cy="421.7" r="3.45" fill="#fff" stroke="#000" stroke-width="1.4"/><circle cx="329" cy="429.3" r="3.45" fill="#fff" stroke="#000" stroke-width="1.4"/><circle cx="349.6" cy="434.4" r="3.45" fill="#fff" stroke="#000" stroke-width="1.4"/><circle cx="339.4" cy="437.6" r="3.55"/><circle cx="329" cy="447.3" r="3.55"/><circle cx="349.6" cy="446.3" r="3.55"/><circle cx="339.4" cy="455.7" r="3.55"/><circle cx="339.6" cy="476" r="3.45" fill="#fff" stroke="#000" stroke-width="1.4"/><circle cx="334.2" cy="491" r="3.45" fill="#fff" stroke="#000" stroke-width="1.4"/><rect x="325.65" y="494.15" width="6.7" height="6.7"/><circle cx="339.4" cy="498" r="3.55"/><rect x="346.25" y="492.15" width="6.7" height="6.7"/><rect x="336.20" y="508.60" width="6.4" height="6.4" fill="#fff" stroke="#000" stroke-width="1.4"/><rect x="346.25" y="507.15" width="6.7" height="6.7"/><circle cx="380.1" cy="450.1" r="3.45" fill="#fff" stroke="#000" stroke-width="1.4"/><circle cx="395.9" cy="449.5" r="3.45" fill="#fff" stroke="#000" stroke-width="1.4"/><circle cx="400.3" cy="453.2" r="3.55"/><circle cx="390.2" cy="456.6" r="3.55"/><circle cx="390.2" cy="468.8" r="3.45" fill="#fff" stroke="#000" stroke-width="1.4"/><circle cx="380.3" cy="473.8" r="3.55"/><circle cx="400.9" cy="476.6" r="3.45" fill="#fff" stroke="#000" stroke-width="1.4"/><circle cx="390.2" cy="480.1" r="3.55"/><circle cx="400.9" cy="486" r="3.55"/><rect x="376.90" y="487.20" width="6.4" height="6.4" fill="#fff" stroke="#000" stroke-width="1.4"/><circle cx="380.1" cy="496.7" r="3.45" fill="#fff" stroke="#000" stroke-width="1.4"/><circle cx="390.2" cy="493" r="3.45" fill="#fff" stroke="#000" stroke-width="1.4"/><rect x="392.55" y="493.35" width="6.7" height="6.7"/><circle cx="400.9" cy="498.6" r="3.55"/><rect x="386.85" y="502.85" width="6.7" height="6.7"/><circle cx="441.4" cy="447.8" r="3.45" fill="#fff" stroke="#000" stroke-width="1.4"/><circle cx="451.8" cy="453.9" r="3.45" fill="#fff" stroke="#000" stroke-width="1.4"/><circle cx="441.4" cy="460.2" r="3.45" fill="#fff" stroke="#000" stroke-width="1.4"/><circle cx="436.1" cy="465.9" r="3.45" fill="#fff" stroke="#000" stroke-width="1.4"/><circle cx="439.5" cy="464.6" r="3.55"/><circle cx="443.3" cy="463.3" r="3.55"/><circle cx="446.7" cy="465.2" r="3.55"/><circle cx="451.8" cy="470" r="3.55"/><circle cx="431.1" cy="473" r="3.55"/><circle cx="441.4" cy="473.8" r="3.55"/><circle cx="451.8" cy="479.1" r="3.45" fill="#fff" stroke="#000" stroke-width="1.4"/><rect x="438.40" y="485.70" width="6.4" height="6.4" fill="#fff" stroke="#000" stroke-width="1.4"/><rect x="448.45" y="489.65" width="6.7" height="6.7"/><circle cx="431.2" cy="496.1" r="3.45" fill="#fff" stroke="#000" stroke-width="1.4"/><rect x="451.40" y="500.00" width="6.4" height="6.4" fill="#fff" stroke="#000" stroke-width="1.4"/><rect x="449.70" y="501.70" width="6.4" height="6.4" fill="#fff" stroke="#000" stroke-width="1.4"/><rect x="446.20" y="502.10" width="6.4" height="6.4" fill="#fff" stroke="#000" stroke-width="1.4"/><rect x="434.10" y="501.30" width="6.4" height="6.4" fill="#fff" stroke="#000" stroke-width="1.4"/><rect x="427.45" y="502.45" width="6.7" height="6.7"/><rect x="438.25" y="498.05" width="6.7" height="6.7"/><rect x="440.05" y="501.95" width="6.7" height="6.7"/><rect x="438.25" y="509.75" width="6.7" height="6.7"/><circle cx="492.7" cy="448.9" r="3.55"/><circle cx="503" cy="446.1" r="3.45" fill="#fff" stroke="#000" stroke-width="1.4"/><circle cx="482.3" cy="473.7" r="3.45" fill="#fff" stroke="#000" stroke-width="1.4"/><circle cx="503" cy="473" r="3.45" fill="#fff" stroke="#000" stroke-width="1.4"/><circle cx="492.7" cy="479.9" r="3.55"/><circle cx="503" cy="488.1" r="3.45" fill="#fff" stroke="#000" stroke-width="1.4"/><circle cx="492.5" cy="490.8" r="3.45" fill="#fff" stroke="#000" stroke-width="1.4"/><circle cx="489.8" cy="496.9" r="3.55"/><circle cx="497.5" cy="498.5" r="3.55"/><rect x="478.50" y="499.90" width="6.4" height="6.4" fill="#fff" stroke="#000" stroke-width="1.4"/><rect x="499.45" y="498.95" width="6.7" height="6.7"/><rect x="484.15" y="499.65" width="6.7" height="6.7"/><rect x="488.65" y="501.65" width="6.7" height="6.7"/><rect x="493.15" y="504.15" width="6.7" height="6.7"/><rect x="479.15" y="508.95" width="6.7" height="6.7"/><rect x="488.90" y="511.40" width="6.4" height="6.4" fill="#fff" stroke="#000" stroke-width="1.4"/><rect x="499.45" y="508.55" width="6.7" height="6.7"/><rect x="493.65" y="507.05" width="6.7" height="6.7"/><path d="M322.9 465H356.4" stroke="#000" stroke-width="2"/><path d="M373.5 478.5H407.6" stroke="#000" stroke-width="2"/><path d="M424.8 484.4H458.5" stroke="#000" stroke-width="2"/><path d="M476 493.8H509.7" stroke="#000" stroke-width="2"/><path d="M337.6 398.9V394H491.4V398.9" stroke="#000" stroke-width="1.7" fill="none"/><text x="416.6" y="398" text-anchor="middle" font-size="21" font-weight="bold">**</text><path d="M391.1 419.4V414.7H491.4V419.4" stroke="#000" stroke-width="1.7" fill="none"/><text x="442.2" y="416.3" text-anchor="middle" font-size="21" font-weight="bold">*</text></svg></body></html>
